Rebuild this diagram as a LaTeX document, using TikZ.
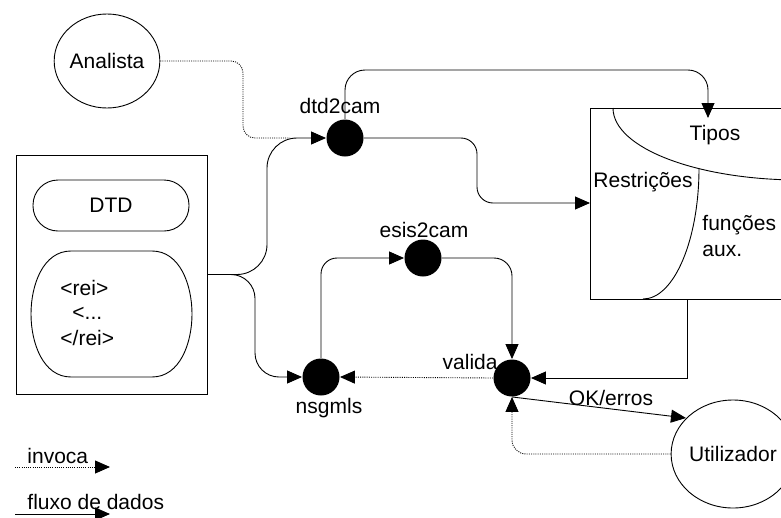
\documentclass[tikz,border=0pt]{standalone}
\usepackage{fontspec}
\setmainfont{Liberation Sans}
\usetikzlibrary{arrows.meta,shapes.geometric}
\begin{document}
\begin{tikzpicture}[x=1pt,y=-1pt,
  font=\fontsize{21}{25}\selectfont, line width=0.9pt,
  tip/.style={-{Triangle[length=15pt,width=13pt]}},
  inv/.style={dash pattern=on 1pt off 1.2pt},
  proc/.style={circle,fill=black,minimum size=37pt,inner sep=0pt},
  actor/.style={ellipse,draw,inner sep=0pt},
  lbl/.style={inner sep=0pt}]
\useasboundingbox (0,0) rectangle (781,517);

% actors
\node[actor,minimum width=104pt,minimum height=94pt] (ana) at (107,61) {Analista};
\node[actor,minimum width=116pt,minimum height=108pt] (uti) at (733,454) {Utilizador};

% processes
\node[proc] (dtd) at (345,138) {};
\node[proc] (esis) at (423,258) {};
\node[proc] (nsg) at (321,377) {};
\node[proc] (val) at (512,378) {};
\node[lbl] (ldtd) at (340,106) {dtd2cam};
\node[lbl] (lesis) at (424,230) {esis2cam};
\node[lbl] (lnsg) at (329,408) {nsgmls};
\node[lbl,anchor=east] (lval) at (498,362) {valida};

% source box
\node[draw,inner sep=0pt,minimum width=191pt,minimum height=239pt] (src) at (111.5,274.5) {};
\node[draw,rounded corners=25pt,minimum width=156pt,minimum height=51pt] (dtdf) at (111,205.5) {DTD};
\draw (71,251) -- (152,251) .. controls (180,251) and (192,285) .. (192,314)
  .. controls (192,343) and (180,377) .. (152,377) -- (71,377)
  .. controls (43,377) and (31,343) .. (31,314)
  .. controls (31,285) and (43,251) .. (71,251) -- cycle;
\node[lbl,anchor=west] (r1) at (60,288) {<rei>};
\node[lbl,anchor=west] (r2) at (72,313) {<...};
\node[lbl,anchor=west] (r3) at (60,338) {</rei>};

% store
\node[draw,inner sep=0pt,minimum width=220pt,minimum height=191pt] (store) at (700,203.5) {};
\draw (613,108) .. controls (613,148) and (697,180) .. (800,180);
\draw (699,168) .. controls (699,240) and (674,299) .. (643,299);
\node[lbl] (tipos) at (715,135) {Tipos};
\node[lbl,anchor=west] (restr) at (593,182) {Restrições};
\node[lbl,anchor=west] (func) at (702,225) {funções};
\node[lbl,anchor=west] (aux) at (702,251) {aux.};

\coordinate (tiposin) at (708,118);
\coordinate (restin) at (590,203);
\coordinate (storeout) at (687,299);
\coordinate (okend) at (686,418);

% connectors
\draw[inv,rounded corners=12pt] (ana.east) -- (243,61) -- (243,138) -- (290,138);
\draw[tip,rounded corners=30pt] (src.east) -- (267,274.5) -- (267,138) -- (dtd.west);
\draw[tip,rounded corners=24pt] (src.east) -- (255,274.5) -- (255,377) -- (nsg.west);
\draw[tip,rounded corners=20pt] (dtd.north) -- (345,70) -- (708,70) -- (tiposin);
\draw[tip,rounded corners=16pt] (dtd.east) -- (477,138) -- (477,203) -- (restin);
\draw[tip,rounded corners=16pt] (nsg.north) -- (321,258) -- (esis.west);
\draw[tip,rounded corners=18pt] (esis.east) -- (512,258) -- (val.north);
\draw[tip] (storeout) -- (687,378) -- (val.east);
\draw[tip,inv] (val.west) -- (nsg.east);
\draw[tip] (val.south) -- (okend);
\node[lbl] (lok) at (611,398) {OK/erros};
\draw[tip,inv,rounded corners=14pt] (uti.west) -- (512,454) -- (val.south);

% legend
\node[lbl,anchor=west] (linv) at (27,456) {invoca};
\coordinate (l1a) at (15,467);
\coordinate (l1b) at (110,467);
\draw[tip,inv] (l1a) -- (l1b);
\node[lbl,anchor=west] (lflu) at (27,502) {fluxo de dados};
\coordinate (l2a) at (15,514);
\coordinate (l2b) at (110,514);
\draw[tip] (l2a) -- (l2b);
\end{tikzpicture}
\end{document}
